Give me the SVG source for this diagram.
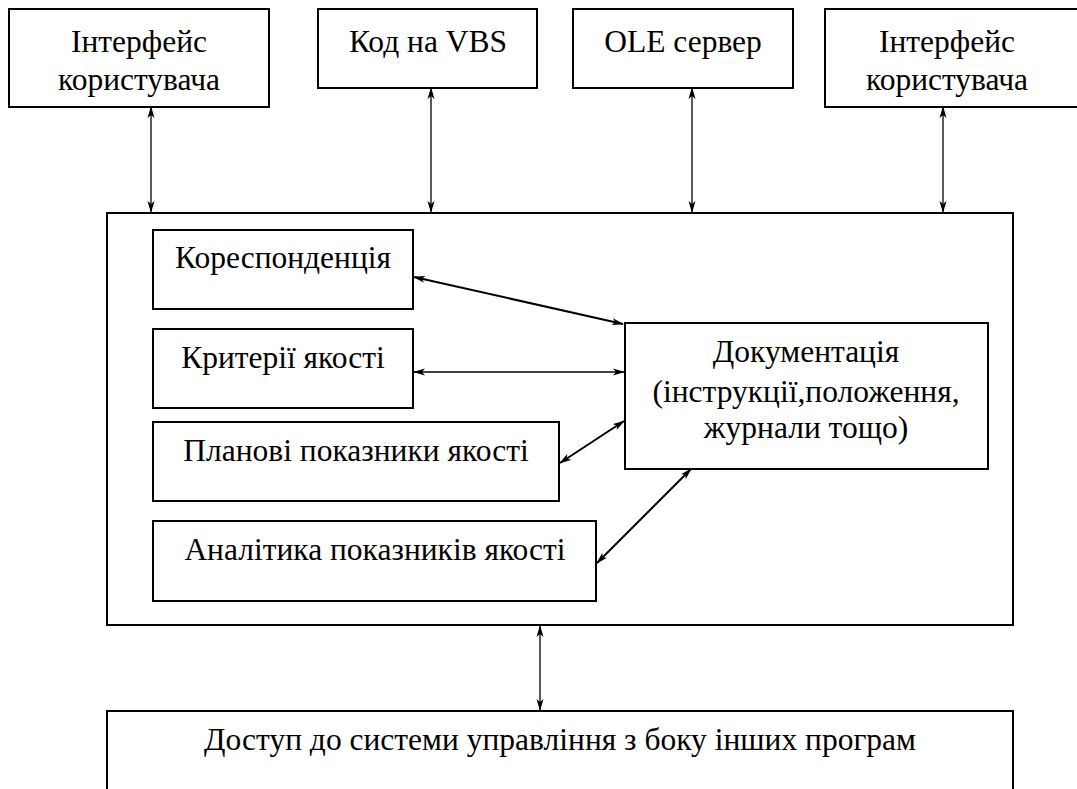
<svg xmlns="http://www.w3.org/2000/svg" width="1077" height="789" viewBox="0 0 1077 789">
<style>
.box{fill:#fff;stroke:#000;stroke-width:2}
.t{font-family:"Liberation Serif","Times New Roman",serif;font-size:31.5px;fill:#000;text-anchor:middle}
.c{fill:none;stroke:#000;stroke-width:1.3}
.c2{fill:none;stroke:#000;stroke-width:2}
</style>
<defs>
<marker id="ah" markerUnits="userSpaceOnUse" markerWidth="12" markerHeight="8" refX="11" refY="4" orient="auto-start-reverse" viewBox="0 0 12 8">
<path d="M0,0.5 L12,4 L0,7.5 L3,4 z" fill="#000"/>
</marker>
</defs>
<rect width="1077" height="789" fill="#fff"/>
<g id="system">
<rect class="box" x="107" y="213" width="906" height="412"/>
</g>
<g id="ui-left">
<rect class="box" x="9" y="9" width="260" height="98"/>
<text class="t" x="139" y="52">Інтерфейс</text>
<text class="t" x="139" y="90">користувача</text>
</g>
<g id="vbs">
<rect class="box" x="318" y="9" width="219" height="79"/>
<text class="t" x="428" y="52">Код на VBS</text>
</g>
<g id="ole">
<rect class="box" x="573" y="9" width="220" height="79"/>
<text class="t" x="683" y="52">OLE сервер</text>
</g>
<g id="ui-right">
<rect class="box" x="825" y="9" width="270" height="98"/>
<text class="t" x="947" y="52">Інтерфейс</text>
<text class="t" x="947" y="90">користувача</text>
</g>
<g id="correspondence">
<rect class="box" x="153" y="230" width="260" height="79"/>
<text class="t" x="283" y="268">Кореспонденція</text>
</g>
<g id="criteria">
<rect class="box" x="153" y="329" width="260" height="79"/>
<text class="t" x="283" y="368">Критерії якості</text>
</g>
<g id="planned">
<rect class="box" x="153" y="422" width="406" height="79"/>
<text class="t" x="356" y="461">Планові показники якості</text>
</g>
<g id="analytics">
<rect class="box" x="153" y="521" width="443" height="80"/>
<text class="t" x="375" y="560">Аналітика показників якості</text>
</g>
<g id="documentation">
<rect class="box" x="625" y="323" width="363" height="146"/>
<text class="t" x="806" y="362">Документація</text>
<text class="t" x="806" y="402">(інструкції,положення,</text>
<text class="t" x="806" y="438">журнали тощо)</text>
</g>
<g id="access">
<rect class="box" x="107" y="711" width="906" height="100"/>
<text class="t" x="560" y="750">Доступ до системи управління з боку інших програм</text>
</g>
<g id="connectors">
<line class="c" x1="151" y1="107" x2="151" y2="212" marker-start="url(#ah)" marker-end="url(#ah)"/>
<line class="c" x1="431" y1="88" x2="431" y2="212" marker-start="url(#ah)" marker-end="url(#ah)"/>
<line class="c" x1="692" y1="88" x2="692" y2="212" marker-start="url(#ah)" marker-end="url(#ah)"/>
<line class="c" x1="943" y1="107" x2="943" y2="212" marker-start="url(#ah)" marker-end="url(#ah)"/>
<line class="c" x1="540" y1="626" x2="540" y2="710" marker-start="url(#ah)" marker-end="url(#ah)"/>
<line class="c2" x1="414" y1="277" x2="623" y2="324" marker-start="url(#ah)" marker-end="url(#ah)"/>
<line class="c" x1="414" y1="372" x2="624" y2="372" marker-start="url(#ah)" marker-end="url(#ah)"/>
<line class="c2" x1="560" y1="463" x2="624" y2="421" marker-start="url(#ah)" marker-end="url(#ah)"/>
<line class="c2" x1="597" y1="563" x2="691" y2="469" marker-start="url(#ah)" marker-end="url(#ah)"/>
</g>
</svg>
